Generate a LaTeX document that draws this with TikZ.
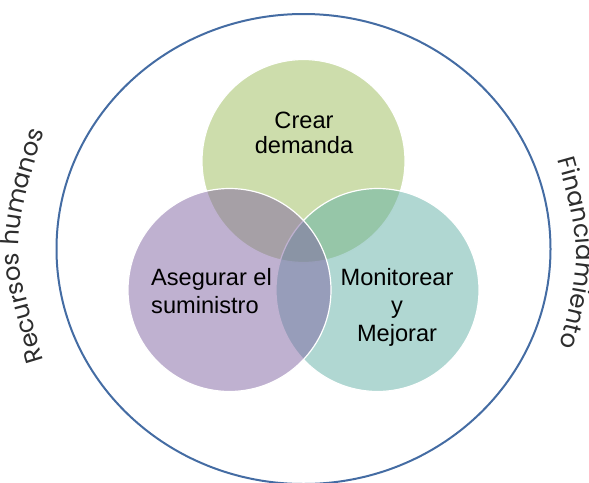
\documentclass[tikz,border=0pt]{standalone}
\usepackage{fontspec}
\setmainfont{Liberation Sans}
\newfontfamily\sidefont{Poppins}
\usetikzlibrary{decorations.text}
\definecolor{ringblue}{RGB}{68,108,163}
\definecolor{demandgreen}{RGB}{155,187,89}
\definecolor{supplypurple}{RGB}{128,100,162}
\definecolor{monitorteal}{RGB}{97,175,165}
\definecolor{sidegray}{RGB}{45,45,45}
\tikzset{
  venn/.style={shape=circle, draw=white, line width=1.2pt, minimum size=203pt, inner sep=0pt, fill opacity=0.5},
  labeltext/.style={font=\fontsize{23.6}{28}\selectfont, text=black, inner sep=0pt}
}
\begin{document}
\begin{tikzpicture}[x=1pt, y=1pt]
\useasboundingbox (0,0) rectangle (589,-482);
% outer ring
\draw[ringblue, line width=2pt] (303.5,-249) ellipse [x radius=247, y radius=235];

% the three circles
\node[venn, fill=demandgreen] (demanda) at (303.5,-161){};
\node[venn, fill=monitorteal] (mejorar) at (377.5,-290){};
\node[venn, fill=supplypurple] (suministro) at (229.5,-290){};

\node[labeltext, font=\fontsize{23.6}{25}\selectfont, align=center] (demandatext) at (304,-133){Crear\\demanda};
\node[labeltext, align=left, anchor=west] (suministrotext) at (151,-291.5){Asegurar el\\suministro};
\node[labeltext, align=center] (mejorartext) at (397,-307){Monitorear\\y\\Mejorar};

% side texts
\path[decorate, decoration={text along path, text align=center,
  text={|\sidefont\fontsize{24.5}{24.5}\selectfont\color{sidegray}|Recursos humanos}}]
  (47,-370) .. controls (9,-246) .. (47,-122);
\path[decorate, decoration={text along path, text align=center,
  text={|\sidefont\fontsize{24.5}{24.5}\selectfont\color{sidegray}|Financiamiento}}]
  (553,-142) .. controls (584,-252) .. (555,-364);

\end{tikzpicture}
\end{document}
